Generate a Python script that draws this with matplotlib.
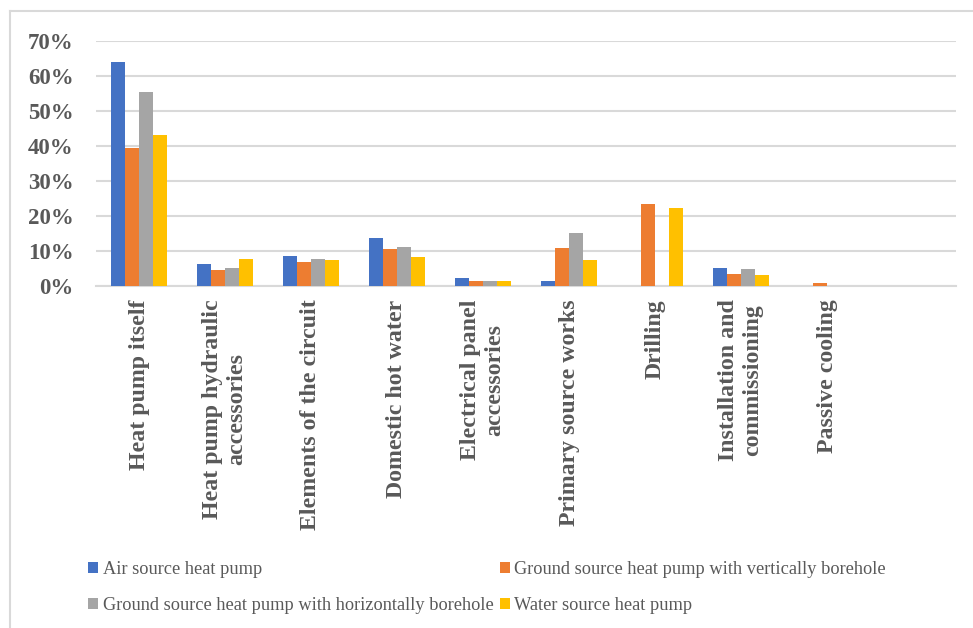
import matplotlib
matplotlib.use("Agg")
import matplotlib.pyplot as plt
from matplotlib.lines import Line2D
from matplotlib.ticker import PercentFormatter
import numpy as np

# cost breakdown per component, values in %
categories = ['Heat pump itself', 'Heat pump hydraulic\naccessories',
              'Elements of the circuit', 'Domestic hot water',
              'Electrical panel\naccessories', 'Primary source works',
              'Drilling', 'Installation and\ncommissioning', 'Passive cooling']
series_names = ['Air source heat pump',
                'Ground source heat pump with vertically borehole',
                'Ground source heat pump with horizontally borehole',
                'Water source heat pump']
air = [64.0, 6.1, 8.4, 13.5, 2.1, 1.2, 0, 4.9, 0]
ground_vert = [39.3, 4.3, 6.6, 10.3, 1.3, 10.8, 23.2, 3.4, 0.8]
ground_horiz = [55.3, 5.1, 7.6, 10.9, 1.3, 15.1, 0, 4.6, 0]
water = [43.1, 7.6, 7.3, 8.1, 1.3, 7.4, 22.1, 3.1, 0]
colors = ['#4472C4', '#ED7D31', '#A5A5A5', '#FFC000']

serif = 'Liberation Serif'
grey_txt = '#595959'

fig = plt.figure(figsize=(9.73, 6.28), dpi=100)
ax = fig.add_axes([96 / 973, 1 - 285.5 / 628, 860 / 973, 244.8 / 628])

x = np.arange(len(categories))
width = 0.16
all_series = [air, ground_vert, ground_horiz, water]
bars = []
for i, (vals, name, c) in enumerate(zip(all_series, series_names, colors)):
    bars.append(ax.bar(x + (i - 1.5) * width, vals, width, color=c,
                       label=name, zorder=3))

ax.set_xlim(-0.5, 9.5)  # one empty slot on the right, like the original
ax.set_ylim(0, 70)
ax.set_yticks(np.arange(0, 71, 10))
ax.yaxis.set_major_formatter(PercentFormatter(decimals=0))
ax.grid(axis='y', color='#D9D9D9', linewidth=1.5, zorder=0)
for s in ['top', 'right', 'left']:
    ax.spines[s].set_visible(False)
ax.spines['bottom'].set_color('#D9D9D9')
ax.spines['bottom'].set_linewidth(1.5)

ax.set_xticks(x)
ax.set_xticklabels(categories, rotation=90, ha='center', va='top',
                   multialignment='center')
ax.tick_params(axis='both', length=0, colors=grey_txt)
ax.tick_params(axis='y', pad=16)
ax.tick_params(axis='x', pad=10)
for lab in ax.get_xticklabels():
    lab.set_fontfamily(serif)
    lab.set_fontweight('bold')
    lab.set_fontsize(17.2)
for lab in ax.get_yticklabels():
    lab.set_fontfamily(serif)
    lab.set_fontweight('bold')
    lab.set_fontsize(16.5)

# legend filled row by row, as in the original
order = [0, 2, 1, 3]
fig.legend([bars[i] for i in order], [series_names[i] for i in order],
           loc='upper left', bbox_to_anchor=(88 / 973, 1 - 561 / 628),
           ncol=2, frameon=False, borderpad=0, borderaxespad=0,
           handlelength=0.55, handleheight=0.55, handletextpad=0.25,
           columnspacing=0.35, labelspacing=1.05,
           prop={'family': serif, 'size': 13.2}, labelcolor=grey_txt)

# chart area border (cut off at right and bottom)
fig.add_artist(Line2D([10 / 973, 10 / 973], [0, 1 - 11 / 628],
                      transform=fig.transFigure, color='#D9D9D9', lw=1.5))
fig.add_artist(Line2D([10 / 973, 1], [1 - 11 / 628, 1 - 11 / 628],
                      transform=fig.transFigure, color='#D9D9D9', lw=1.5))

fig.savefig('out.png', dpi=100)
